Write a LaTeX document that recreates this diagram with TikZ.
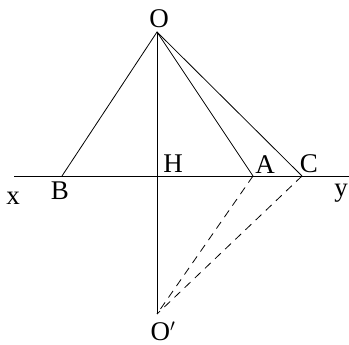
\documentclass[tikz,border=0pt]{standalone}
\usepackage{fontspec}
\setmainfont{Liberation Serif}
\tikzset{
    lbl/.style={font=\fontsize{27}{32}\selectfont, inner sep=0pt},
    dsh/.style={dash pattern=on 8pt off 6pt}
}
\begin{document}
\begin{tikzpicture}[x=1pt, y=-1pt, line width=0.8pt]
    \useasboundingbox (0,0) rectangle (349,345);
    % Points
    \coordinate (O) at (157,32);
    \coordinate (H) at (157,176);
    \coordinate (B) at (62,176);
    \coordinate (A) at (253,176);
    \coordinate (C) at (302,176);
    \coordinate (Op) at (157,314);
    \coordinate (xe) at (14,176);
    \coordinate (ye) at (349,176);

    % Line xy
    \draw (xe) -- (ye);
    % Sides from O
    \draw (B) -- (O) -- (A);
    \draw (O) -- (C);
    \draw (O) -- (Op);
    % Dashed lines to O'
    \draw[dsh] (A) -- (Op);
    \draw[dsh] (C) -- (Op);

    % Labels
    \node[lbl] (lO) at (159,18.5) {O};
    \node[lbl] (lH) at (173,164) {H};
    \node[lbl] (lB) at (60,191) {B};
    \node[lbl] (lA) at (265,165) {A};
    \node[lbl] (lC) at (309,164) {C};
    \node[lbl] (lOp) at (163,331) {O$'$};
    \node[lbl] (lx) at (13,198) {x};
    \node[lbl] (ly) at (341,193) {y};
\end{tikzpicture}
\end{document}
